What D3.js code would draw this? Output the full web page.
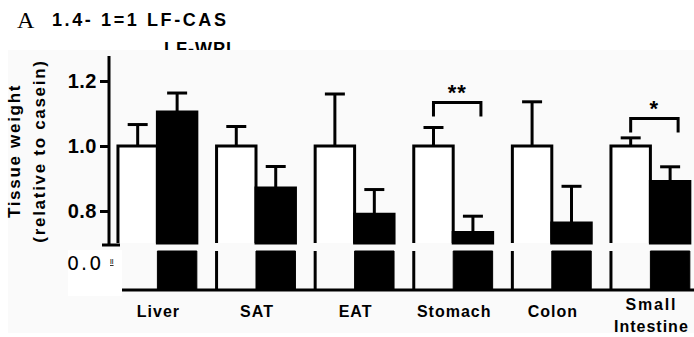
<!DOCTYPE html>
<html>
<head>
<meta charset="utf-8">
<script src="https://cdn.jsdelivr.net/npm/d3@7"></script>
<style>
  body { margin: 0; background: #fff; }
  text { font-family: "Liberation Sans", Arial, sans-serif; }
</style>
</head>
<body>
<div id="canvas"></div>
<script>
// data
const categories = ["Liver", "SAT", "EAT", "Stomach", "Colon", "Small Intestine"];
const groups = ["LF-CAS", "LF-WPI"];
const casMean = [1.0, 1.0, 1.0, 1.0, 1.0, 1.0];
const casErr = [0.066, 0.06, 0.16, 0.057, 0.136, 0.025];
const wpiMean = [1.105, 0.871, 0.79, 0.734, 0.763, 0.891];
const wpiErr = [0.058, 0.066, 0.076, 0.05, 0.113, 0.045];
const yTicks = [0.8, 1.0, 1.2];
const sigCats = ["Stomach", "Small Intestine"];
const sigLabels = ["**", "*"];
const sigLevels = [1.134, 1.085];

const dims = { width: 694, height: 337 };
const upper = { top: 56, bottom: 243 };
const lower = { top: 251, bottom: 290 };

const svg = d3
  .select("#canvas")
  .append("svg")
  .attr("width", dims.width)
  .attr("height", dims.height);

// title text (partly hidden by panel)
svg.append("text")
  .attr("x", 17).attr("y", 28)
  .style("font-family", "'Liberation Serif', serif")
  .style("font-size", "24px")
  .text("A");
svg.append("text")
  .attr("x", 52).attr("y", 26)
  .style("font-weight", "bold").style("font-size", "18px")
  .style("letter-spacing", "2.6px")
  .text("1.4- 1=1 LF-CAS");
svg.append("text")
  .attr("x", 164).attr("y", 55)
  .style("font-weight", "bold").style("font-size", "18px")
  .style("letter-spacing", "1px")
  .text("LF-WPI");

// light panel
svg.append("rect")
  .attr("x", 8).attr("y", 50)
  .attr("width", dims.width - 8).attr("height", 283)
  .attr("fill", "#fafafa");

const rows = categories.map((c, i) => ({
  cat: c,
  vals: [
    { g: groups[0], mean: casMean[i], err: casErr[i] },
    { g: groups[1], mean: wpiMean[i], err: wpiErr[i] }
  ]
}));

// scales
const x0 = d3.scaleBand()
  .domain(categories)
  .range([108.1, 699.7])
  .paddingInner(0.2)
  .paddingOuter(0.1);
const x1 = d3.scaleBand().domain(groups).range([0, x0.bandwidth()]);
const yTop = d3.scaleLinear().domain([0.8, 1.2]).range([211, 81]);
const yBot = d3.scaleLinear().domain([0, 0.1]).range([lower.bottom, lower.top]);

const graph = svg.append("g");

const groupG = graph.selectAll("g.grp")
  .data(rows)
  .enter()
  .append("g")
  .attr("class", "grp")
  .attr("transform", d => `translate(${x0(d.cat)},0)`);

// upper bars
groupG.selectAll("path.up")
  .data(d => d.vals)
  .enter()
  .append("path")
  .attr("class", "up")
  .attr("d", d => {
    const l = x1(d.g), r = l + x1.bandwidth(), t = yTop(d.mean);
    return d.g === groups[0]
      ? `M${l},${upper.bottom}V${t}H${r}V${upper.bottom}`
      : `M${l},${upper.bottom}V${t}H${r}V${upper.bottom}Z`;
  })
  .attr("fill", d => (d.g === groups[0] ? "#fff" : "#000"))
  .attr("stroke", "#000")
  .attr("stroke-width", 3);

// lower bars (below the break)
groupG.selectAll("path.low")
  .data(d => d.vals)
  .enter()
  .append("path")
  .attr("class", "low")
  .attr("d", d => {
    const l = x1(d.g), r = l + x1.bandwidth();
    return d.g === groups[0]
      ? `M${l},${lower.top}V${yBot(0)}`
      : `M${l},${lower.top}H${r}V${yBot(0)}H${l}Z`;
  })
  .attr("fill", d => (d.g === groups[0] ? "none" : "#000"))
  .attr("stroke", "#000")
  .attr("stroke-width", d => (d.g === groups[0] ? 3 : 1));

// error bars
const errG = groupG.selectAll("g.err")
  .data(d => d.vals)
  .enter()
  .append("g")
  .attr("class", "err")
  .attr("stroke", "#000")
  .attr("stroke-width", 3);
errG.append("line")
  .attr("x1", d => x1(d.g) + x1.bandwidth() / 2)
  .attr("x2", d => x1(d.g) + x1.bandwidth() / 2)
  .attr("y1", d => yTop(d.mean))
  .attr("y2", d => yTop(d.mean + d.err));
errG.append("line")
  .attr("x1", d => x1(d.g) + x1.bandwidth() / 2 - 10)
  .attr("x2", d => x1(d.g) + x1.bandwidth() / 2 + 10)
  .attr("y1", d => yTop(d.mean + d.err))
  .attr("y2", d => yTop(d.mean + d.err));

// baseline
graph.append("line")
  .attr("x1", 122).attr("x2", dims.width)
  .attr("y1", yBot(0)).attr("y2", yBot(0))
  .attr("stroke", "#000").attr("stroke-width", 3);

// y axis
const yAxis = d3.axisLeft(yTop)
  .tickValues(yTicks)
  .tickFormat(d3.format(".1f"))
  .tickSize(9)
  .tickSizeOuter(0)
  .tickPadding(3);
const yAxisGroup = svg.append("g").attr("transform", "translate(109,0)");
yAxisGroup.call(yAxis);
yAxisGroup.select(".domain")
  .attr("d", `M0,${upper.top}V245`)
  .attr("stroke-width", 3);
yAxisGroup.selectAll(".tick line").attr("stroke-width", 3);
yAxisGroup.selectAll(".tick text")
  .style("font-size", "20px")
  .style("font-weight", "bold")
  .style("letter-spacing", "0.5px")
  .style("font-family", "'Liberation Sans', Arial, sans-serif")
  .attr("fill", "#000");
svg.append("line")
  .attr("x1", 102).attr("x2", 120)
  .attr("y1", 245).attr("y2", 245)
  .attr("stroke", "#000").attr("stroke-width", 3);

// white box with broken-axis label
svg.append("rect")
  .attr("x", 68).attr("y", 250)
  .attr("width", 54).attr("height", 46)
  .attr("fill", "#fff");
svg.append("text")
  .attr("x", 67).attr("y", 270)
  .style("font-family", "'DejaVu Sans', sans-serif")
  .style("font-size", "19px")
  .style("letter-spacing", "2px")
  .text(d3.format(".1f")(0));
svg.append("text")
  .attr("x", 110).attr("y", 264)
  .style("font-size", "8px")
  .style("text-decoration", "underline")
  .text("ll");

// x labels
const xLab = svg.append("g")
  .selectAll("text")
  .data(categories)
  .enter()
  .append("text")
  .attr("text-anchor", "middle")
  .attr("x", d => x0(d) + x0.bandwidth() / 2 + 1)
  .style("font-weight", "bold")
  .style("font-size", "16px")
  .style("letter-spacing", "1px");
xLab.filter(d => d.indexOf(" ") < 0)
  .attr("y", 317)
  .text(d => d);
xLab.filter(d => d.indexOf(" ") >= 0)
  .each(function(d) {
    const words = d.split(" ");
    const t = d3.select(this);
    t.append("tspan").attr("x", t.attr("x")).attr("y", 310)
      .style("letter-spacing", "1.8px").text(words[0]);
    t.append("tspan").attr("x", t.attr("x")).attr("y", 332).text(words[1]);
  });

// y label
const yLab = svg.append("text")
  .attr("transform", "translate(20,151) rotate(-90)")
  .attr("text-anchor", "middle")
  .style("font-weight", "bold")
  .style("font-size", "17px")
  .style("letter-spacing", "1.7px");
yLab.append("tspan").attr("x", 0).attr("y", 0).text("Tissue weight");
yLab.append("tspan").attr("x", 0).attr("y", 25).text("(relative to casein)");

// significance brackets
sigCats.forEach((c, i) => {
  const l = x0(c) + x1(groups[0]) + x1.bandwidth() / 2;
  const r = x0(c) + x1(groups[1]) + x1.bandwidth() / 2 + 8;
  const yb = yTop(sigLevels[i]);
  svg.append("path")
    .attr("d", `M${l},${yb + 14}V${yb}H${r}V${yb + 14}`)
    .attr("fill", "none")
    .attr("stroke", "#000")
    .attr("stroke-width", 3);
  svg.append("text")
    .attr("x", (l + r) / 2)
    .attr("y", yb - 2)
    .attr("text-anchor", "middle")
    .style("font-weight", "bold")
    .style("font-size", "22px")
    .style("letter-spacing", "1px")
    .text(sigLabels[i]);
});
</script>
</body>
</html>
